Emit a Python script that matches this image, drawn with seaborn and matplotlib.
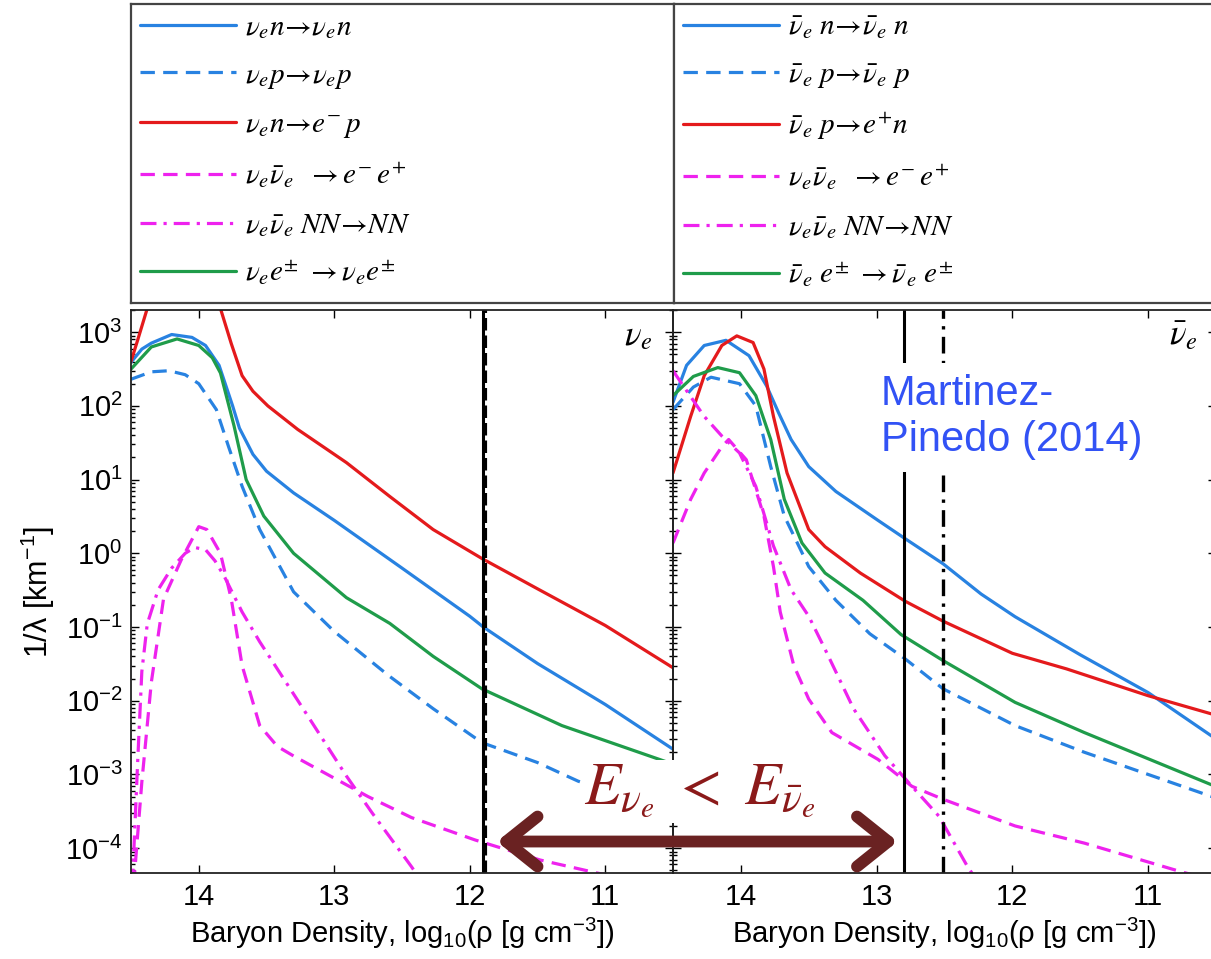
import numpy as np
import matplotlib
matplotlib.use('Agg')
import matplotlib.pyplot as plt
import seaborn as sns
from matplotlib.ticker import LogLocator, NullFormatter

# x = log10(rho [g cm^-3]), y = inverse mean free path 1/lambda [km^-1]
# ---- electron neutrino panel ----
nue_nn_x = [14.5, 14.42, 14.35, 14.2, 14.05, 13.95, 13.85, 13.75, 13.7, 13.6, 13.5, 13.3, 13.0, 12.5, 12.0, 11.9, 11.5, 11.0, 10.5]
nue_nn_y = [390, 590, 710, 930, 850, 660, 355, 100, 50, 22, 13, 6.6, 2.8, 0.63, 0.14, 0.10, 0.032, 0.0089, 0.0022]

nue_np_x = [14.5, 14.35, 14.22, 14.1, 14.0, 13.87, 13.78, 13.68, 13.55, 13.3, 13.0, 12.6, 12.27, 11.91, 11.5, 11.2, 10.85, 10.5]
nue_np_y = [230, 290, 300, 265, 200, 89, 28, 8.1, 2.1, 0.30, 0.087, 0.022, 0.0078, 0.0027, 0.00145, 0.00081, 0.0005, 0.00032]

nue_abs_x = [14.5, 14.45, 14.38, 14.3, 14.1, 13.95, 13.84, 13.76, 13.68, 13.6, 13.49, 13.27, 12.91, 12.59, 12.27, 11.91, 11.5, 11.0, 10.5]
nue_abs_y = [400, 790, 2100, 5000, 2e4, 1e4, 2100, 700, 257, 158, 100, 48, 17, 5.9, 2.1, 0.85, 0.33, 0.105, 0.028]

nue_pair_x = [14.48, 14.42, 14.35, 14.26, 14.13, 14.0, 13.94, 13.84, 13.76, 13.68, 13.55, 13.42, 13.3, 13.0, 12.75, 12.43, 11.96, 11.48, 11.06, 10.85]
nue_pair_y = [3.2e-5, 7.9e-4, 0.0178, 0.24, 0.81, 2.3, 2.1, 1.0, 0.24, 0.030, 0.0046, 0.0024, 0.00178, 0.00089, 0.0005, 0.00026, 0.000129, 6.9e-5, 4.6e-5, 3.8e-5]

nue_brem_x = [14.49, 14.45, 14.42, 14.38, 14.3, 14.2, 14.1, 14.03, 13.95, 13.88, 13.81, 13.68, 13.55, 13.23, 12.91, 12.72, 12.43, 12.3]
nue_brem_y = [3.2e-5, 0.0016, 0.025, 0.11, 0.32, 0.63, 1.0, 1.2, 1.12, 0.79, 0.48, 0.16, 0.063, 0.0078, 0.00095, 0.0003, 5.6e-5, 2.5e-5]

nue_lep_x = [14.5, 14.35, 14.16, 14.0, 13.9, 13.84, 13.74, 13.65, 13.52, 13.3, 12.91, 12.59, 12.27, 11.91, 11.32, 10.5]
nue_lep_y = [316, 630, 810, 660, 450, 280, 54, 10, 3.2, 1.0, 0.25, 0.112, 0.04, 0.0145, 0.0046, 0.00138]

# ---- electron antineutrino panel ----
nub_nn_x = [14.5, 14.4, 14.27, 14.11, 13.94, 13.81, 13.72, 13.63, 13.5, 13.3, 12.99, 12.79, 12.51, 12.23, 11.98, 11.5, 11.0, 10.53]
nub_nn_y = [112, 355, 660, 776, 480, 186, 79, 35, 15, 6.9, 2.8, 1.58, 0.72, 0.28, 0.138, 0.042, 0.0129, 0.0033]

nub_np_x = [14.5, 14.35, 14.22, 14.01, 13.89, 13.78, 13.68, 13.5, 13.3, 13.05, 12.79, 12.51, 11.98, 11.47, 10.53]
nub_np_y = [89, 180, 245, 200, 100, 15, 3.2, 0.66, 0.23, 0.081, 0.037, 0.0145, 0.0046, 0.002, 0.0005]

nub_abs_x = [14.5, 14.37, 14.27, 14.14, 14.03, 13.91, 13.83, 13.76, 13.66, 13.5, 13.38, 13.12, 12.79, 12.51, 12.0, 11.6, 11.0, 10.53]
nub_abs_y = [12.3, 72, 257, 661, 891, 724, 316, 72, 12.3, 2.1, 1.23, 0.54, 0.224, 0.12, 0.044, 0.027, 0.0117, 0.0066]

nub_pair_x = [14.5, 14.37, 14.27, 14.14, 14.09, 13.96, 13.83, 13.76, 13.71, 13.61, 13.5, 13.33, 12.99, 12.74, 12.51, 11.98, 11.47, 10.76, 10.6]
nub_pair_y = [1.38, 5.4, 12.3, 28, 35, 18.6, 3.2, 0.66, 0.16, 0.03, 0.0105, 0.0037, 0.0016, 0.00069, 0.00046, 0.0002, 0.000117, 4.8e-5, 4.0e-5]

nub_brem_x = [14.5, 14.39, 14.27, 14.14, 14.01, 13.89, 13.76, 13.63, 13.5, 13.38, 13.17, 12.94, 12.74, 12.54, 12.33, 12.2]
nub_brem_y = [300, 151, 72, 39, 23, 8.1, 1.26, 0.32, 0.14, 0.05, 0.0078, 0.0018, 0.00069, 0.00027, 5.6e-5, 2.5e-5]

nub_lep_x = [14.5, 14.35, 14.17, 14.01, 13.89, 13.78, 13.68, 13.55, 13.38, 13.1, 12.82, 12.51, 11.98, 11.47, 10.53]
nub_lep_y = [138, 251, 331, 282, 138, 35, 5.4, 1.38, 0.54, 0.23, 0.079, 0.035, 0.0095, 0.0037, 0.00072]

# decoupling densities (vertical lines) and annotation levels
nue_sphere = [11.9, 11.89]
nub_sphere = [12.8, 12.51]
arrow_x = [11.80, 12.845]
arrow_y = 1.23e-4

nue_labels = [r'$\nu_e n\!\rightarrow\!\nu_e n$', r'$\nu_e p\!\rightarrow\!\nu_e p$',
              r'$\nu_e n\!\rightarrow\! e^{-}\, p$', r'$\nu_e\bar{\nu}_e\ \ \rightarrow e^{-}\, e^{+}$',
              r'$\nu_e\bar{\nu}_e\ NN\!\rightarrow\! NN$', r'$\nu_e e^{\pm}\ \rightarrow\nu_e e^{\pm}$']
nub_labels = [r'$\bar{\nu}_e\ n\!\rightarrow\!\bar{\nu}_e\ n$', r'$\bar{\nu}_e\ p\!\rightarrow\!\bar{\nu}_e\ p$',
              r'$\bar{\nu}_e\ p\!\rightarrow\! e^{+} n$', r'$\nu_e\bar{\nu}_e\ \ \rightarrow e^{-}\, e^{+}$',
              r'$\nu_e\bar{\nu}_e\ NN\!\rightarrow\! NN$', r'$\bar{\nu}_e\ e^{\pm}\ \rightarrow\bar{\nu}_e\ e^{\pm}$']

BLUE, RED, GREEN, MAG = '#2882e1', '#e41a1c', '#1f9c4a', '#ee22ee'
DASH = (0, (4.5, 2.6))
DASHDOT = (0, (5, 2.2, 1, 2.2))

sns.set_style('ticks')
plt.rcParams['font.family'] = ['Liberation Sans', 'DejaVu Sans']
plt.rcParams['mathtext.fontset'] = 'custom'
plt.rcParams['mathtext.rm'] = 'Liberation Sans'
plt.rcParams['mathtext.it'] = 'Liberation Sans:italic'
plt.rcParams['mathtext.bf'] = 'Liberation Sans:bold'
plt.rcParams['text.color'] = 'black'
plt.rcParams['axes.labelcolor'] = 'black'
plt.rcParams['xtick.color'] = 'black'
plt.rcParams['ytick.color'] = 'black'

W, H = 1211, 959
fig = plt.figure(figsize=(W / 100, H / 100), dpi=100)


def box(x0, y0, x1, y1):
    return [x0 / W, 1 - y1 / H, (x1 - x0) / W, (y1 - y0) / H]


ax1 = fig.add_axes(box(131, 310, 673, 873))
ax2 = fig.add_axes(box(673, 310, 1216, 873))
leg1 = fig.add_axes(box(131, 4, 674, 303))
leg2 = fig.add_axes(box(674, 4, 1217, 303))


def curve(ax, x, y, color, ls):
    sns.lineplot(x=x, y=y, ax=ax, color=color, linestyle=ls, linewidth=2.3,
                 estimator=None, sort=False)
    return ax.lines[-1]


panels = [
    (ax1, leg1, nue_labels, [(nue_nn_x, nue_nn_y), (nue_np_x, nue_np_y), (nue_abs_x, nue_abs_y),
                             (nue_pair_x, nue_pair_y), (nue_brem_x, nue_brem_y), (nue_lep_x, nue_lep_y)]),
    (ax2, leg2, nub_labels, [(nub_nn_x, nub_nn_y), (nub_np_x, nub_np_y), (nub_abs_x, nub_abs_y),
                             (nub_pair_x, nub_pair_y), (nub_brem_x, nub_brem_y), (nub_lep_x, nub_lep_y)]),
]
styles = [(BLUE, '-'), (BLUE, DASH), (RED, '-'), (MAG, DASH), (MAG, DASHDOT), (GREEN, '-')]

for ax, lax, labels, series in panels:
    handles = []
    for (x, y), (c, ls) in zip(series, styles):
        handles.append(curve(ax, x, y, c, ls))
    ax.set_yscale('log')
    ax.set_ylim(4.6e-5, 2.0e3)
    ax.set_xlim(14.5, 10.5)
    ax.set_xticks([14, 13, 12, 11])
    ax.yaxis.set_major_locator(LogLocator(base=10, numticks=20))
    ax.yaxis.set_minor_locator(LogLocator(base=10, subs=np.arange(2, 10), numticks=20))
    ax.yaxis.set_minor_formatter(NullFormatter())
    ax.tick_params(which='both', direction='in', top=True, right=True, labelsize=21, width=1.0)
    ax.tick_params(which='major', length=6)
    ax.tick_params(which='minor', length=3)
    ax.tick_params(axis='x', pad=7)
    ax.tick_params(axis='y', pad=6)
    ax.set_xlabel('Baryon Density, log$_{10}$(ρ [g cm$^{-3}$])', fontsize=21, labelpad=4)
    for s in ax.spines.values():
        s.set_linewidth(1.3)
        s.set_color('#222222')
        s.set_visible(True)

    lax.set_xticks([])
    lax.set_yticks([])
    for s in lax.spines.values():
        s.set_linewidth(1.6)
        s.set_color('#444444')
        s.set_visible(True)
    lg = lax.legend(handles, labels, loc='upper left', frameon=False, fontsize=21,
                    handlelength=3.3, handletextpad=0.3, labelspacing=0.68,
                    borderaxespad=0.2, borderpad=0.1)
    for t in lg.get_texts():
        t.set_math_fontfamily('stix')

ax2.tick_params(labelleft=False)
ax2.patch.set_alpha(0)
ax1.set_ylabel('1/λ [km$^{-1}$]', fontsize=22, labelpad=6)

# neutrinosphere markers
ax1.axvline(nue_sphere[0], color='black', lw=2.2)
ax1.axvline(nue_sphere[1], color='black', lw=3.0, linestyle=(0, (3, 1.2)))
ax2.axvline(nub_sphere[0], color='black', lw=2.2)
ax2.axvline(nub_sphere[1], color='black', lw=2.4, linestyle=(0, (5, 2.2, 1, 2.2)))

ax1.text(10.76, 900, r'$\nu_e$', fontsize=25, math_fontfamily='stix', ha='center', va='center')
ax2.text(10.74, 900, r'$\bar{\nu}_e$', fontsize=25, math_fontfamily='stix', ha='center', va='center')

ax2.text(12.97, 70, 'Martinez-\nPinedo (2014)', fontsize=30, color='#3252f5', ha='left',
         va='center', zorder=6, bbox=dict(fc='white', ec='none', pad=8))

ax2.text(14.3, 3.9e-4, r'$E_{\nu_e}\ <\ E_{\bar{\nu}_e}$', fontsize=43, math_fontfamily='stix',
         color='#8b1a1a', ha='center', va='baseline', zorder=6, clip_on=False,
         bbox=dict(fc='white', ec='none', pad=2))

ax2.annotate('', xy=(arrow_x[1], arrow_y), xycoords='data',
             xytext=(arrow_x[0], arrow_y), textcoords=ax1.transData,
             arrowprops=dict(arrowstyle='<->,head_length=0.75,head_width=0.6', mutation_scale=30,
                             lw=8.5, color='#6a2222', shrinkA=0, shrinkB=0),
             annotation_clip=False, zorder=7)

fig.savefig('out.png', dpi=100)
